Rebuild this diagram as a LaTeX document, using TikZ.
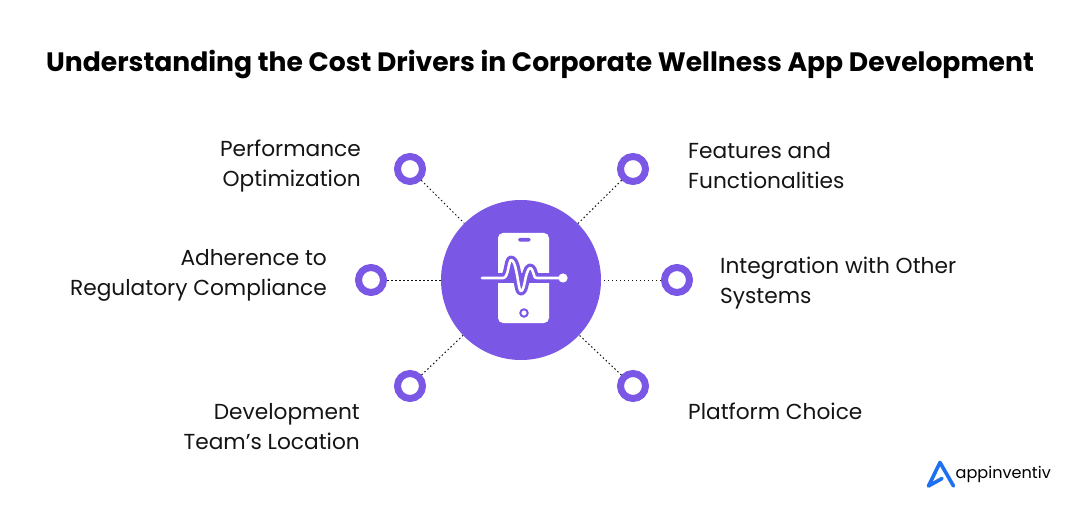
\documentclass[tikz,border=0pt]{standalone}
\usepackage{fontspec}
\setmainfont{Poppins}
\definecolor{vio}{HTML}{7B57E6}
\definecolor{ink}{HTML}{141414}
\definecolor{logob}{HTML}{1F6FF2}
\tikzset{
 x=1pt,y=-1pt,
 ring/.style={circle,draw=vio,line width=7pt,fill=white,minimum size=25pt,inner sep=0pt},
 hub/.style={circle,fill=vio,minimum size=160pt,inner sep=0pt},
 lab/.style={font=\fontsize{21.7}{30}\selectfont,text=ink,inner sep=0pt,align=left,anchor=west},
 labr/.style={font=\fontsize{21.7}{30}\selectfont,text=ink,inner sep=0pt,align=right,anchor=east},
 tie/.style={draw=ink,line width=1pt,dash pattern=on 1.5pt off 2.5pt},
}
\begin{document}
\begin{tikzpicture}
\useasboundingbox (0,0) rectangle (1080,516);
\fill[white] (0,0) rectangle (1080,516);
\node[font=\fontsize{26.6}{32}\selectfont\bfseries,text=black,inner sep=0pt] (title) at (540,65) {Understanding the Cost Drivers in Corporate Wellness App Development};
\node[hub] (hub) at (521,280) {};
\node[ring] (r1) at (410,169) {};
\node[ring] (r2) at (633,169) {};
\node[ring] (r3) at (371,280) {};
\node[ring] (r4) at (677,280) {};
\node[ring] (r5) at (410,386) {};
\node[ring] (r6) at (633,386) {};
\foreach \r in {r1,r2,r3,r4,r5,r6} \draw[tie] (\r) -- (hub);
\node[labr] (l1) at (361,166) {Performance\\Optimization};
\node[lab] (l2) at (688,166) {Features and\\Functionalities};
\node[labr] (l3) at (327,275) {Adherence to\\Regulatory Compliance};
\node[lab] (l4) at (720,283) {Integration with Other\\Systems};
\node[labr] (l5) at (360,426.5) {Development\\Team’s Location};
\node[lab] (l6) at (688,411) {Platform Choice};
% phone icon
\fill[white,rounded corners=5pt] (498,233) rectangle (549,323);
\fill[vio,rounded corners=1.5pt] (518,238) rectangle (530.5,241.5);
\draw[vio,line width=2pt] (524,313) circle (3.7pt);
\def\pulseb{(482,278) -- (503,278) .. controls (506,278) and (507,274) .. (508,270) .. controls (509,265) and (510,260) .. (511,260) .. controls (513,260) and (515,264) .. (516,270) .. controls (518,278) and (519,291) .. (521,291) .. controls (524,291) and (525,278) .. (527,273) .. controls (528,270) and (529,268) .. (530,268) .. controls (532,268) and (533,272) .. (534,275) .. controls (534,277) and (535,278) .. (537,278) -- (563,278)}
\draw[vio,line width=10pt] (486,278) -- (556,278);
\draw[vio,line width=9pt,line join=round] \pulseb;
\draw[white,line width=2.6pt,line cap=round,line join=round] \pulseb;
\fill[white] (563,278) circle (4.6pt);
% logo
\draw[logob,line width=3.6pt,line cap=round,line join=round] (928.5,486) -- (940,462.5) -- (953.5,486) (928.5,486) -- (942,478.5);
\node[font=\fontsize{16.1}{20}\selectfont,text=black,inner sep=0pt,anchor=west] (logo) at (955.5,474) {appinventiv};
\end{tikzpicture}
\end{document}
